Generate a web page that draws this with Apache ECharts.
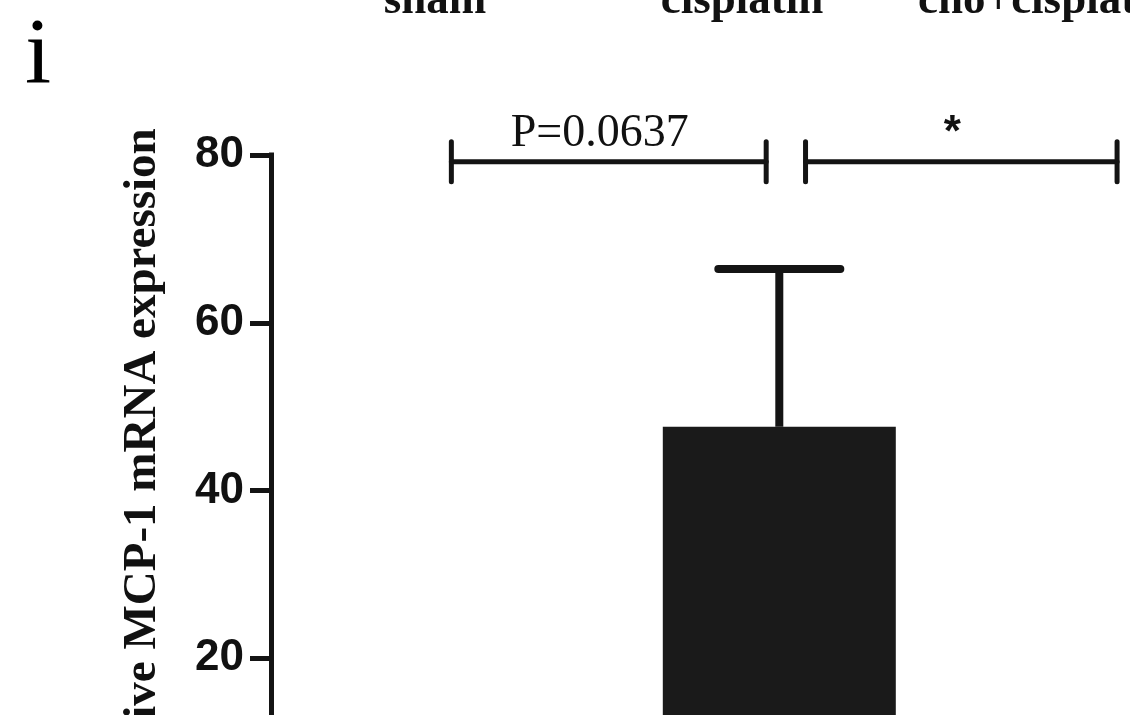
<!DOCTYPE html>
<html>
<head>
<meta charset="utf-8">
<title>Relative MCP-1 mRNA expression</title>
<script src="https://cdn.jsdelivr.net/npm/echarts@6/dist/echarts.min.js"></script>
<style>
  html, body { margin: 0; padding: 0; background: #ffffff; }
  #chart { width: 1130px; height: 715px; }
</style>
</head>
<body>
<div id="chart"></div>
<script>
// Groups, their positions on the x scale, and the measured values
const groups = ['sham', 'cisplatin', 'cho+cisplatin'];
const groupPos = [0, 1, 2];
const meanValues = [1.0, 47.6, 8.0];
const errorValues = [0.4, 18.8, 3.0];

// y-axis ticks
const yTicks = [0, 20, 40, 60, 80];

// Significance brackets: start, end (x scale), height (y scale), label
const bracketStart = [0.0, 1.08];
const bracketEnd = [0.96, 2.03];
const bracketLevel = [79.2, 79.2];
const bracketLabel = ['P=0.0637', '*'];

// Group names of the panel above, partly cut by the top edge
const upperGroupNames = ['sham', 'cisplatin', 'cho+cisplatin'];

const panelLetter = 'i';
const yTitle = 'Relative MCP-1 mRNA expression';

const INK = '#141414';

const barData = groupPos.map((x, i) => [x, meanValues[i]]);
const errData = groupPos.map((x, i) => [x, meanValues[i], errorValues[i]]);
const bracketData = bracketStart.map((s, i) => [s, bracketEnd[i], bracketLevel[i]]);

const chart = echarts.init(document.getElementById('chart'), null, { renderer: 'canvas' });

chart.setOption({
  backgroundColor: '#ffffff',
  animation: false,
  // the plot runs past the right and bottom edges of the page
  grid: { left: 271, top: 155, width: 1033, height: 671, containLabel: false, outerBoundsMode: 'none' },
  xAxis: {
    type: 'value',
    min: -0.55,
    max: 2.6,
    show: false
  },
  yAxis: {
    type: 'value',
    min: yTicks[0],
    max: yTicks[yTicks.length - 1],
    interval: yTicks[1] - yTicks[0],
    splitLine: { show: false },
    axisLine: { show: true, onZero: false, lineStyle: { color: INK, width: 5, cap: 'square' } },
    axisTick: { show: true, length: 21, lineStyle: { color: INK, width: 5 } },
    axisLabel: {
      margin: 27,
      color: '#111',
      fontFamily: 'Liberation Sans',
      fontWeight: 'bold',
      fontSize: 44
    },
    name: yTitle,
    nameLocation: 'middle',
    nameGap: 105,
    nameTextStyle: {
      color: '#111',
      fontFamily: 'Liberation Serif',
      fontWeight: 'bold',
      fontSize: 47,
      padding: [0, 0, 0, 27]
    }
  },
  series: [
    {
      type: 'bar',
      data: barData,
      barWidth: 233,
      itemStyle: { color: '#1a1a1a' },
      silent: true
    },
    {
      // upper error bars
      type: 'custom',
      data: errData,
      z: 3,
      renderItem: function (params, api) {
        const x = api.value(0), m = api.value(1), e = api.value(2);
        const base = api.coord([x, m]);
        const top = api.coord([x, m + e]);
        const half = 61;
        return {
          type: 'group',
          children: [
            { type: 'line', shape: { x1: top[0], y1: base[1], x2: top[0], y2: top[1] },
              style: { stroke: INK, lineWidth: 8 } },
            { type: 'line', shape: { x1: top[0] - half, y1: top[1], x2: top[0] + half, y2: top[1] },
              style: { stroke: INK, lineWidth: 8, lineCap: 'round' } }
          ]
        };
      }
    },
    {
      // significance brackets
      type: 'custom',
      data: bracketData,
      z: 4,
      renderItem: function (params, api) {
        const p0 = api.coord([api.value(0), api.value(2)]);
        const p1 = api.coord([api.value(1), api.value(2)]);
        const label = bracketLabel[params.dataIndex];
        const isStar = /^\*+$/.test(label);
        const endHalf = 20;
        const lineStyle = { stroke: INK, lineWidth: 5, lineCap: 'round' };
        return {
          type: 'group',
          children: [
            { type: 'line', shape: { x1: p0[0], y1: p0[1], x2: p1[0], y2: p1[1] }, style: lineStyle },
            { type: 'line', shape: { x1: p0[0], y1: p0[1] - endHalf, x2: p0[0], y2: p0[1] + endHalf }, style: lineStyle },
            { type: 'line', shape: { x1: p1[0], y1: p1[1] - endHalf, x2: p1[0], y2: p1[1] + endHalf }, style: lineStyle },
            {
              type: 'text',
              style: {
                text: label,
                x: (p0[0] + p1[0]) / 2 - 9,
                y: p0[1] - 28,
                align: 'center',
                verticalAlign: 'middle',
                fill: '#111',
                font: isStar ? 'bold 44px "Liberation Sans"' : '46px "Liberation Serif"'
              }
            }
          ]
        };
      }
    }
  ],
  graphic: [
    {
      type: 'text',
      left: 25,
      top: 10,
      style: { text: panelLetter, font: '94px "Liberation Serif"', fill: '#000' }
    },
    {
      type: 'text', x: 435, y: 1,
      style: { text: upperGroupNames[0], font: 'bold 45px "Liberation Serif"', fill: '#111', align: 'center', verticalAlign: 'middle' }
    },
    {
      type: 'text', x: 742, y: 1,
      style: { text: upperGroupNames[1], font: 'bold 45px "Liberation Serif"', fill: '#111', align: 'center', verticalAlign: 'middle' }
    },
    {
      type: 'text', x: 918, y: 1,
      style: { text: upperGroupNames[2], font: 'bold 45px "Liberation Serif"', fill: '#111', align: 'left', verticalAlign: 'middle' }
    }
  ]
});
</script>
</body>
</html>
